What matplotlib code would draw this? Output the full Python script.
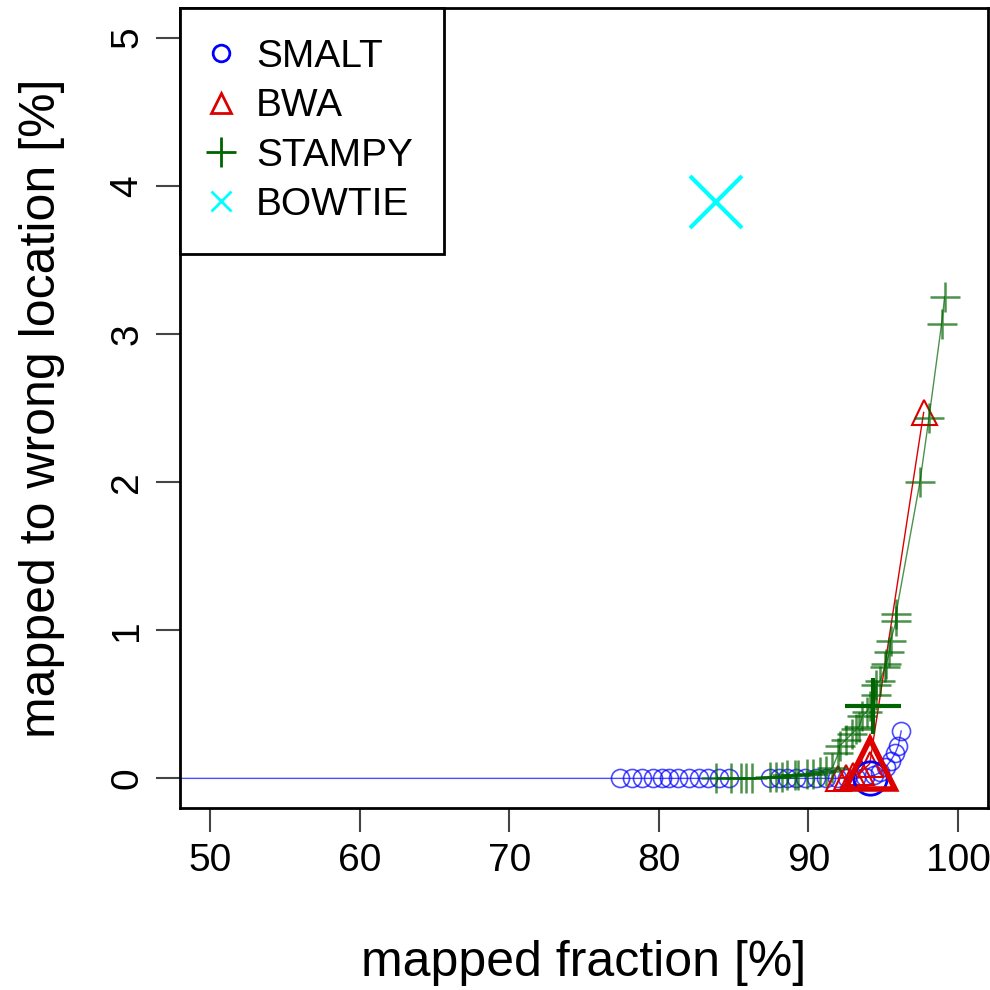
import matplotlib
matplotlib.use('Agg')
import matplotlib.pyplot as plt
from matplotlib.lines import Line2D

plt.rcParams['font.family'] = ['Liberation Sans', 'DejaVu Sans']

# SMALT (line continues off the left edge)
smalt_x = [20.0, 77.4, 78.2, 78.9, 79.6, 80.2, 80.7, 81.3, 82.0, 82.7, 83.3, 84.0, 84.7,
           87.4, 88.0, 88.6, 89.2, 89.8, 90.5, 91.2, 91.9, 92.6, 93.2, 93.8, 94.4,
           94.8, 95.2, 95.5, 95.8, 96.0, 96.2]
smalt_y = [0.0, 0.0, 0.0, 0.0, 0.0, 0.0, 0.0, 0.0, 0.0, 0.0, 0.0, 0.0, 0.0,
           0.0, 0.0, 0.0, 0.0, 0.0, 0.0, 0.0, 0.0, 0.0, 0.0, 0.01, 0.02,
           0.04, 0.08, 0.12, 0.17, 0.22, 0.32]

# BWA
bwa_x = [92.0, 92.5, 93.0, 93.5, 94.1, 97.7]
bwa_y = [0.0, 0.01, 0.02, 0.04, 0.1, 2.47]

# STAMPY
stampy_x = [83.8, 84.8, 85.5, 85.8, 86.2, 87.4, 87.8, 88.2, 88.6, 89.1, 89.3, 89.9, 90.3,
            90.8, 91.2, 91.6, 92.0, 92.1, 92.5, 92.9, 93.2, 93.4, 93.6, 93.9, 94.1, 94.3,
            94.5, 94.5, 94.8, 95.1, 95.2, 95.4, 95.5, 95.85, 95.85, 97.45, 98.05, 98.9, 99.1]
stampy_y = [0.0, 0.0, 0.0, 0.0, 0.0, 0.01, 0.01, 0.01, 0.02, 0.02, 0.02, 0.03, 0.03,
            0.04, 0.05, 0.07, 0.17, 0.22, 0.26, 0.3, 0.33, 0.35, 0.42, 0.45, 0.49, 0.49,
            0.56, 0.63, 0.66, 0.75, 0.77, 0.85, 0.93, 1.06, 1.11, 2.0, 2.43, 3.07, 3.25]

# default settings (big markers)
smalt_def = (94.1, 0.0)
bwa_def = (94.1, 0.1)
stampy_def = (94.3, 0.49)
bowtie_def = (83.8, 3.89)

names = ['SMALT', 'BWA', 'STAMPY', 'BOWTIE']
xticks = [50, 60, 70, 80, 90, 100]
yticks = [0, 1, 2, 3, 4, 5]

blue = '#0000ff'
red = '#dd0000'
green = '#006400'
cyan = '#00ffff'

fig = plt.figure(figsize=(9.9, 9.9), dpi=100)
ax = fig.add_axes([180/990, 1-808/990, 808/990, 800/990])

ax.plot(smalt_x, smalt_y, color=blue, lw=1, marker='o', ms=13, mfc='none',
        mec=blue, mew=1.2, alpha=0.7)
ax.plot(bwa_x, bwa_y, color=red, lw=1, marker='^', ms=18, mfc='none',
        mec=red, mew=1.5)
ax.plot(stampy_x, stampy_y, color=green, lw=1, marker='+', ms=22, mew=1.8, alpha=0.7)

ax.plot(*smalt_def, marker='o', ms=24, mfc='none', mec=blue, mew=2)
ax.plot(*bwa_def, marker='^', ms=36, mfc='none', mec=red, mew=4)
ax.plot(*stampy_def, marker='+', ms=40, mec=green, mew=3)
ax.plot(*bowtie_def, marker='x', ms=38, mec=cyan, mew=3)

ax.set_xlim(48, 102)
ax.set_ylim(-0.2, 5.2)
ax.set_xticks(xticks)
ax.set_yticks(yticks)
ax.tick_params(axis='both', length=17, width=1.5, color='#444444', labelsize=28, pad=8)
plt.setp(ax.get_yticklabels(), rotation=90, va='center')
for s in ax.spines.values():
    s.set_linewidth(2)

ax.set_xlabel('mapped fraction [%]', fontsize=36, labelpad=44)
ax.set_ylabel('mapped to wrong location [%]', fontsize=36, labelpad=32)

handles = [
    Line2D([], [], ls='none', marker='o', ms=12, mfc='none', mec=blue, mew=2),
    Line2D([], [], ls='none', marker='^', ms=14, mfc='none', mec=red, mew=2),
    Line2D([], [], ls='none', marker='+', ms=22, mec=green, mew=2),
    Line2D([], [], ls='none', marker='x', ms=15, mec=cyan, mew=2),
]
leg = ax.legend(handles, names, loc='upper left', fontsize=28, frameon=True,
                fancybox=False, borderaxespad=0, handletextpad=0.65,
                borderpad=0.8, labelspacing=0.34, handlelength=0.5)
leg.get_frame().set_edgecolor('black')
leg.get_frame().set_linewidth(2)
leg.get_frame().set_alpha(1)

fig.savefig('out.png', dpi=100)
